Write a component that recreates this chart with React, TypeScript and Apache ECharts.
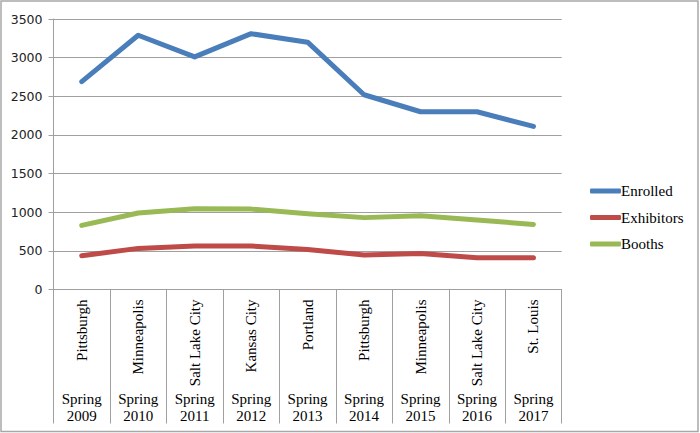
import React, { useEffect, useRef } from "react";
import * as echarts from "echarts";

const cities = ["Pittsburgh", "Minneapolis", "Salt Lake City", "Kansas City", "Portland", "Pittsburgh", "Minneapolis", "Salt Lake City", "St. Louis"];
const seasons = ["Spring\n2009", "Spring\n2010", "Spring\n2011", "Spring\n2012", "Spring\n2013", "Spring\n2014", "Spring\n2015", "Spring\n2016", "Spring\n2017"];
const enrolled = [2690, 3290, 3010, 3310, 3200, 2520, 2300, 2300, 2110];
const exhibitors = [437, 532, 562, 562, 519, 446, 466, 411, 411];
const booths = [830, 990, 1045, 1040, 980, 930, 955, 900, 842];
const yTicks = { min: 0, max: 3500, interval: 500 };

const serif = "Liberation Serif";
const gray = "#a0a0a0";

export default function App() {
  const ref = useRef<HTMLDivElement>(null);
  useEffect(() => {
    const chart = echarts.init(ref.current!, null, { renderer: "svg" });
    const mkLine = (name: string, data: number[], color: string) => ({
      name,
      type: "line",
      data,
      xAxisIndex: 0,
      symbol: "none",
      showSymbol: false,
      color,
      lineStyle: { width: 5, color, cap: "round", join: "round" },
    });
    chart.setOption({
      animation: false,
      backgroundColor: "#ffffff",
      grid: { left: 53.5, right: 138.3, top: 19, bottom: 143.5, containLabel: false },
      xAxis: [
        {
          type: "category",
          data: cities,
          boundaryGap: true,
          axisLine: { show: true, lineStyle: { color: gray, width: 1 } },
          axisTick: { show: true, length: 134, lineStyle: { color: gray, width: 1 } },
          axisLabel: { rotate: 90, margin: 10, fontFamily: serif, fontSize: 15, color: "#000", interval: 0 },
        },
        {
          type: "category",
          data: seasons,
          position: "bottom",
          offset: 93,
          boundaryGap: true,
          axisLine: { show: false },
          axisTick: { show: false },
          axisLabel: { margin: 8, fontFamily: serif, fontSize: 15, lineHeight: 17, color: "#000", interval: 0, align: "center" },
        },
      ],
      yAxis: {
        type: "value",
        min: yTicks.min,
        max: yTicks.max,
        interval: yTicks.interval,
        axisLine: { show: true, lineStyle: { color: gray, width: 1 } },
        axisTick: { show: true, length: 5, lineStyle: { color: gray } },
        splitLine: { show: true, lineStyle: { color: gray, width: 1 } },
        axisLabel: { margin: 11, fontFamily: "DejaVu Sans", fontSize: 12.5, color: "#222", formatter: (v: number) => String(v) },
      },
      legend: {
        orient: "vertical",
        left: 585,
        top: 178.5,
        icon: "roundRect",
        itemWidth: 31,
        itemHeight: 5,
        itemGap: 11.5,
        textStyle: { fontFamily: serif, fontSize: 15, color: "#000", padding: [0, 0, 0, -5] },
        data: ["Enrolled", "Exhibitors", "Booths"],
      },
      graphic: [
        {
          type: "rect",
          shape: { x: 1, y: 1, width: 697, height: 430.5 },
          style: { fill: "none", stroke: "#a8a8a8", lineWidth: 1.5 },
          silent: true,
        },
      ],
      series: [
        mkLine("Enrolled", enrolled, "#4A7EBB"),
        mkLine("Exhibitors", exhibitors, "#BE4B48"),
        mkLine("Booths", booths, "#98B954"),
      ],
    });
    return () => chart.dispose();
  }, []);
  return <div ref={ref} style={{ position: "fixed", left: 0, top: 0, width: 700, height: 433 }} />;
}
